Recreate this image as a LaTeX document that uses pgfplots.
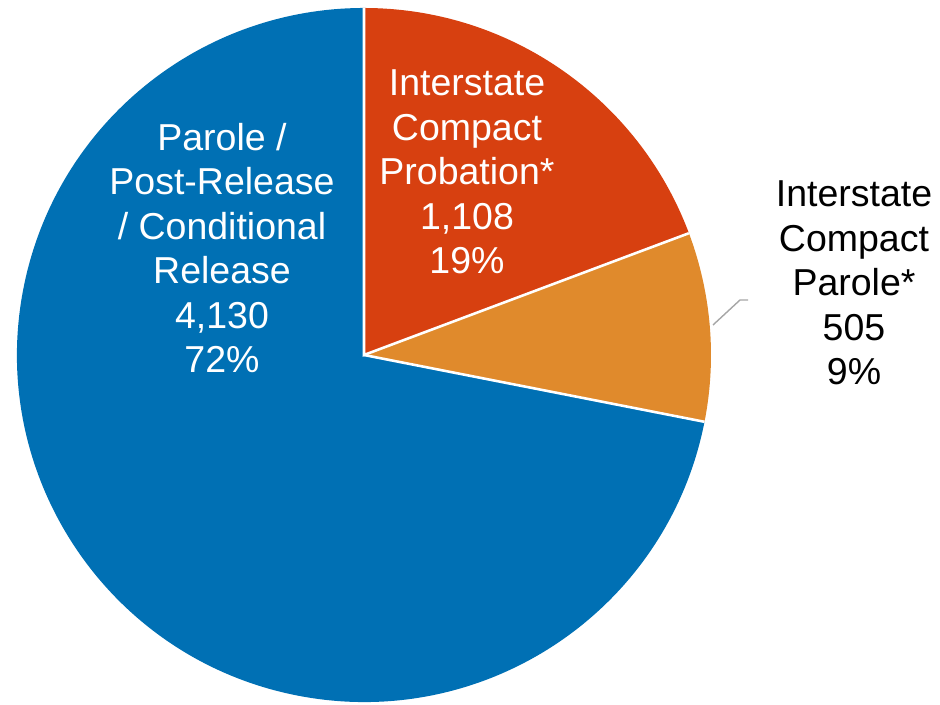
\documentclass[border=0pt]{standalone}
\usepackage{pgfplots}
\usepackage{pgfplotstable}
\pgfplotsset{compat=1.18}
\usepackage{fontspec}
\setmainfont{Liberation Sans}

\definecolor{cBlue}{RGB}{0,112,180}
\definecolor{cRed}{RGB}{215,64,16}
\definecolor{cOrange}{RGB}{224,138,44}
\definecolor{cLead}{RGB}{166,166,166}

% supervision types, clockwise from 12 o'clock
\pgfplotstableread{
type value
ICProbation 1108
ICParole 505
Parole 4130
}\piedata

\begin{document}
\begin{tikzpicture}
\pgfplotstablegetelem{0}{value}\of\piedata \let\va\pgfplotsretval
\pgfplotstablegetelem{1}{value}\of\piedata \let\vb\pgfplotsretval
\pgfplotstablegetelem{2}{value}\of\piedata \let\vc\pgfplotsretval
\pgfmathsetmacro\total{\va+\vb+\vc}
\pgfmathsetmacro\aA{90}
\pgfmathsetmacro\aB{\aA-360*(\va/\total)}
\pgfmathsetmacro\aC{\aB-360*(\vb/\total)}
\pgfmathsetmacro\aD{\aC-360*(\vc/\total)}
\def\cx{364}\def\cy{350}\def\r{347}
\begin{axis}[
    x=0.015cm, y=0.015cm,
    xmin=0, xmax=940, ymin=0, ymax=705,
    hide axis, clip=false,
    xtick=\empty, ytick=\empty,
  ]
  \coordinate (bl) at (axis cs:0,0);
  \coordinate (tr) at (axis cs:940,705);
  % slices
  \fill[cRed] (axis cs:\cx,\cy) -- (axis cs:{\cx+\r*cos(\aA)},{\cy+\r*sin(\aA)})
     arc[start angle=\aA, end angle=\aB, radius=5.205cm] -- cycle;
  \fill[cOrange] (axis cs:\cx,\cy) -- (axis cs:{\cx+\r*cos(\aB)},{\cy+\r*sin(\aB)})
     arc[start angle=\aB, end angle=\aC, radius=5.205cm] -- cycle;
  \fill[cBlue] (axis cs:\cx,\cy) -- (axis cs:{\cx+\r*cos(\aC)},{\cy+\r*sin(\aC)})
     arc[start angle=\aC, end angle=\aD, radius=5.205cm] -- cycle;
  % white separators
  \draw[white, line width=1.1pt] (axis cs:{\cx+\r*cos(\aA)},{\cy+\r*sin(\aA)}) -- (axis cs:\cx,\cy)
     -- (axis cs:{\cx+\r*cos(\aB)},{\cy+\r*sin(\aB)});
  \draw[white, line width=1.1pt] (axis cs:\cx,\cy) -- (axis cs:{\cx+\r*cos(\aC)},{\cy+\r*sin(\aC)});
  % leader line
  \draw[cLead, line width=0.6pt] (axis cs:713,380) -- (axis cs:740,405) -- (axis cs:748,405);
  % labels
  \node[white, align=center, font=\fontsize{16}{19}\selectfont] at (axis cs:222,457)
     {Parole /\\Post-Release\\/ Conditional\\Release\\4,130\\72\%};
  \node[white, align=center, font=\fontsize{16}{19}\selectfont] at (axis cs:467,533)
     {Interstate\\Compact\\Probation*\\1,108\\19\%};
  \node[black, align=center, font=\fontsize{16}{19}\selectfont] at (axis cs:854,422)
     {Interstate\\Compact\\Parole*\\505\\9\%};
\end{axis}
\pgfresetboundingbox
\path[use as bounding box] (bl) rectangle (tr);
\end{tikzpicture}
\end{document}
